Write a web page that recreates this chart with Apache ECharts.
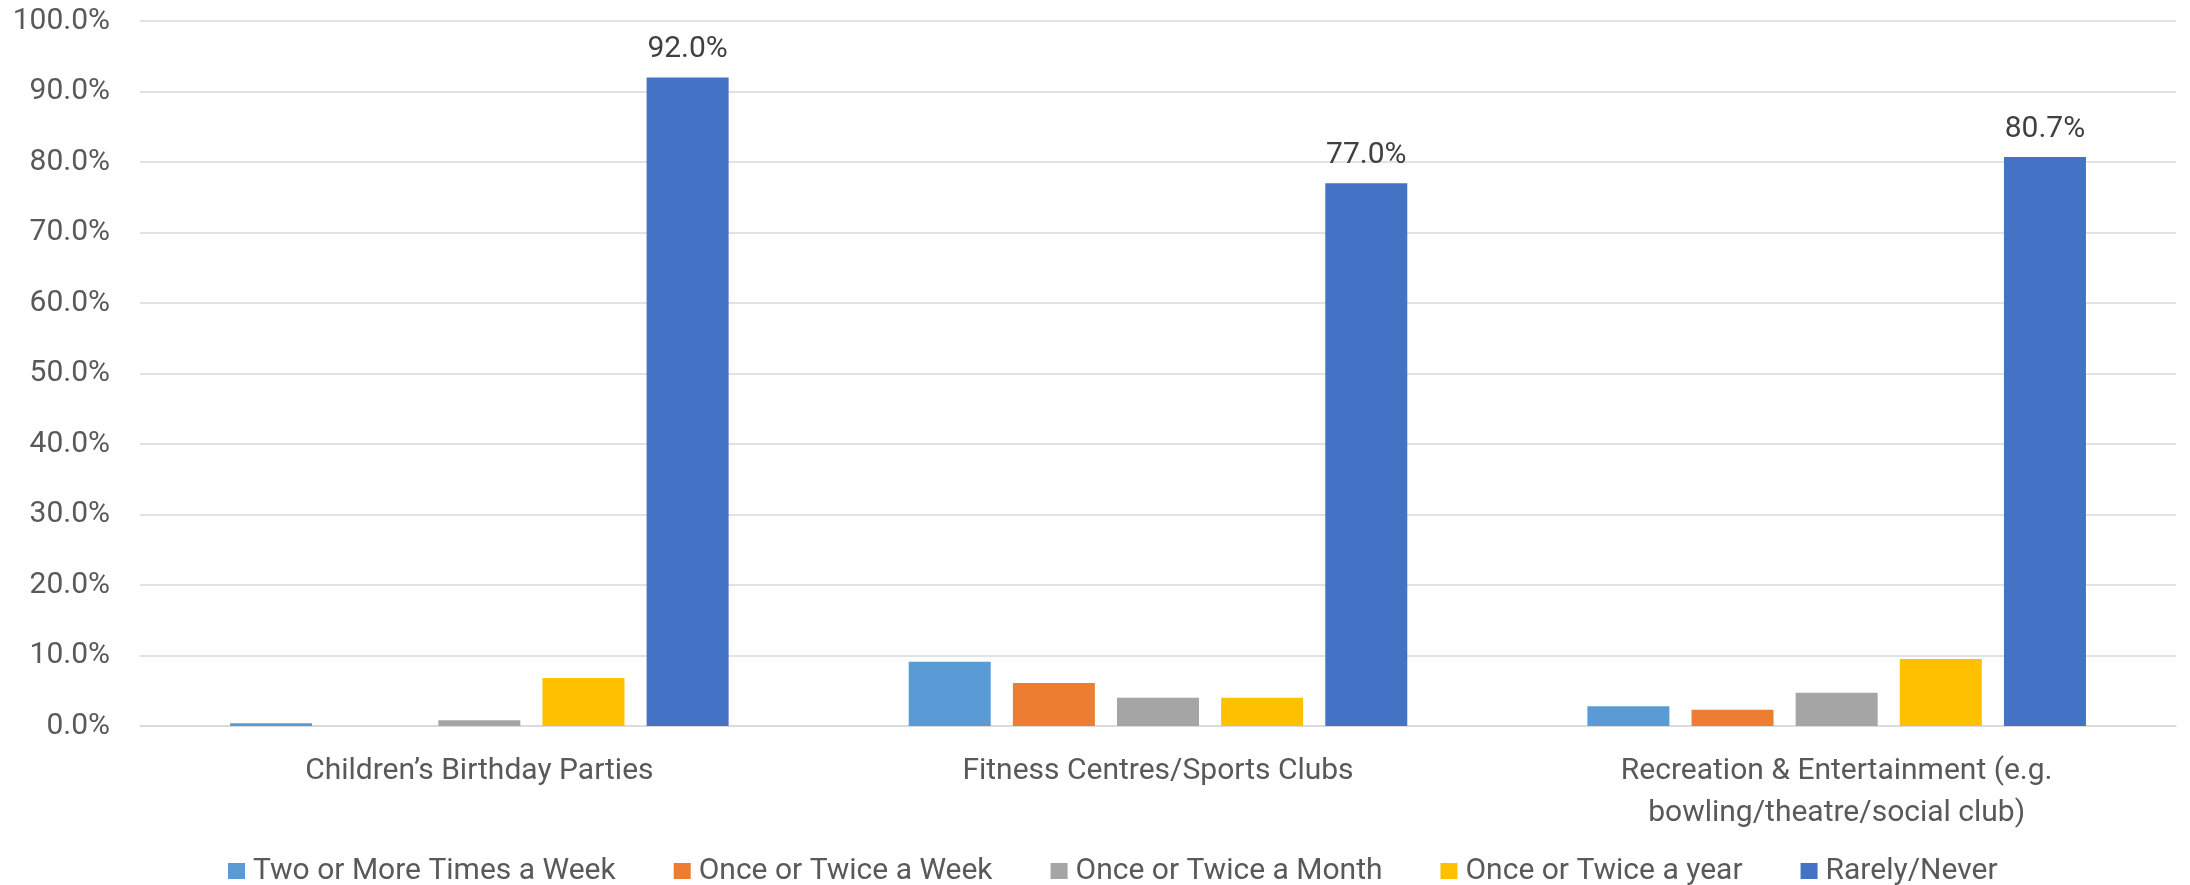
<!DOCTYPE html>
<html>
<head>
<meta charset="utf-8">
<script src="https://cdn.jsdelivr.net/npm/echarts@6/dist/echarts.min.js"></script>
<style>
  html, body { margin: 0; padding: 0; background: #fff; }
  #chart { width: 2190px; height: 885px; }
</style>
</head>
<body>
<div id="chart"></div>
<script>
// 类别与各频次的百分比
const categories = [
  'Children’s Birthday Parties',
  'Fitness Centres/Sports Clubs',
  'Recreation & Entertainment (e.g.\nbowling/theatre/social club)'
];
const seriesNames = [
  'Two or More Times a Week',
  'Once or Twice a Week',
  'Once or Twice a Month',
  'Once or Twice a year',
  'Rarely/Never'
];
const twoOrMoreWeek = [0.4, 9.1, 2.8];
const onceTwiceWeek = [0, 6.1, 2.3];
const onceTwiceMonth = [0.8, 4.0, 4.7];
const onceTwiceYear = [6.8, 4.0, 9.5];
const rarelyNever = [92.0, 77.0, 80.7];
const yTicks = [0, 10, 20, 30, 40, 50, 60, 70, 80, 90, 100];

const colors = ['#5B9BD5', '#ED7D31', '#A5A5A5', '#FFC000', '#4472C4'];
const values = [twoOrMoreWeek, onceTwiceWeek, onceTwiceMonth, onceTwiceYear, rarelyNever];
const fontFamily = 'Roboto, "Open Sans", sans-serif';

const chart = echarts.init(document.getElementById('chart'), null, { renderer: 'canvas' });

const series = seriesNames.map((name, i) => ({
  name: name,
  type: 'bar',
  data: values[i],
  barWidth: 82,
  barGap: '27%',
  itemStyle: { color: colors[i] },
  label: {
    show: i === 4,
    position: 'top',
    distance: 13,
    fontSize: 30,
    fontFamily: fontFamily,
    color: '#404040',
    formatter: (p) => p.value.toFixed(1) + '%'
  }
}));

const option = {
  animation: false,
  grid: { left: 140, right: 14, top: 21, bottom: 159, containLabel: false },
  legend: {
    data: seriesNames,
    left: 223,
    top: 851,
    itemWidth: 17,
    itemHeight: 16,
    itemGap: 58,
    icon: 'rect',
    textStyle: {
      fontSize: 30,
      fontFamily: fontFamily,
      color: '#595959',
      padding: [0, 0, 0, 3]
    }
  },
  xAxis: {
    type: 'category',
    data: categories,
    axisTick: { show: false },
    axisLine: { lineStyle: { color: '#d9d9d9', width: 1.5 } },
    axisLabel: {
      margin: 24,
      fontSize: 30,
      lineHeight: 42,
      fontFamily: fontFamily,
      color: '#595959',
      interval: 0
    }
  },
  yAxis: {
    type: 'value',
    min: yTicks[0],
    max: yTicks[yTicks.length - 1],
    interval: 10,
    axisLine: { show: false },
    axisTick: { show: false },
    splitLine: { lineStyle: { color: '#d9d9d9', width: 1.5 } },
    axisLabel: {
      margin: 30,
      fontSize: 30,
      fontFamily: fontFamily,
      color: '#595959',
      formatter: (v) => v.toFixed(1) + '%'
    }
  },
  series: series
};

chart.setOption(option);
</script>
</body>
</html>
